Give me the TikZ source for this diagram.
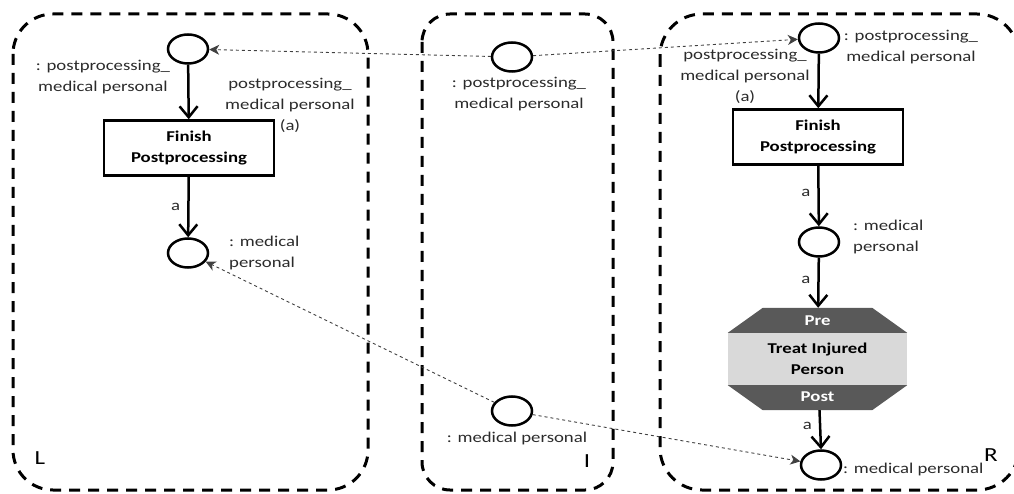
\documentclass[tikz,border=0pt]{standalone}
\usepackage{fontspec}
\setmainfont{Carlito}[FakeStretch=1.25]
\usetikzlibrary{arrows.meta,shapes.geometric,calc}
\definecolor{bandgray}{HTML}{595959}
\definecolor{midgray}{HTML}{D9D9D9}
\definecolor{linkgray}{HTML}{404040}
\definecolor{textgray}{HTML}{2B2B2B}

\begin{document}
\begin{tikzpicture}[x=1pt,y=-1pt,
    every node/.style={font=\fontsize{15}{21}\selectfont,inner sep=0pt,text=textgray},
    place/.style={draw,ellipse,line width=2.5pt,minimum width=40pt,minimum height=29pt},
    trans/.style={draw,line width=2.5pt,minimum width=170pt,minimum height=55pt,align=center,
                  text=black,font=\fontsize{15}{21}\selectfont\bfseries},
    flow/.style={line width=2.5pt,-{Straight Barb[length=11pt,width=18pt]}},
    morph/.style={linkgray,line width=0.9pt,dash pattern=on 3pt off 3pt,-{Stealth[length=10pt,width=10pt,inset=3pt]}},
    part/.style={line width=3pt,dash pattern=on 11pt off 8pt},
    side/.style={font=\fontsize{20}{20}\selectfont,text=black}]
    \useasboundingbox (0,0) rectangle (1014,494);
    % the three parts L, I, R
    \draw[part,rounded corners=40pt] (13,14) rectangle (368,490);
    \draw[part,rounded corners=28pt] (422,14) rectangle (613,490);
    \draw[part,rounded corners=42pt] (660,14) rectangle (1019,490);
    \node[side] (lname) at (40,458) {L};
    \node[side] (iname) at (587,461) {I};
    \node[side] (rname) at (991,455) {R};

    % left side
    \node[place] (lpre) at (188,49) {};
    \node[align=center] (lprelbl) at (103,77) {: postprocessing\_\\medical personal};
    \node[trans] (lfin) at (189,148) {Finish\\Postprocessing};
    \node[align=center] (larclbl) at (290,105) {postprocessing\_\\medical personal\\(a)};
    \node[place] (lmed) at (188,253) {};
    \node[align=left,anchor=west] (lmedlbl) at (229,253) {: medical\\personal};
    \draw[flow] (lpre) -- (lfin);
    \draw[flow] (lfin) -- node[left=7pt] {a} (lmed);

    % interface
    \node[place] (ipre) at (512,57) {};
    \node[align=center] (iprelbl) at (519,94) {: postprocessing\_\\medical personal};
    \node[place] (imed) at (512,411) {};
    \node (imedlbl) at (517,438) {: medical personal};

    % right side
    \node[place] (rpre) at (819,38) {};
    \node[align=center] (rprelbl) at (911,47) {: postprocessing\_\\medical personal};
    \node[align=center] (rarclbl) at (745,76) {postprocessing\_\\medical personal\\(a)};
    \node[trans] (rfin) at (818,137) {Finish\\Postprocessing};
    \node[place] (rmed) at (819,242) {};
    \node[align=left,anchor=west] (rmedlbl) at (853,237) {: medical\\personal};
    \node[minimum width=179pt,minimum height=102pt] (treat) at (817.5,359) {};
    \fill[bandgray] ($(treat.north west)+(0,25)$) -- ($(treat.north west)+(35,0)$)
        -- ($(treat.north east)+(-35,0)$) -- ($(treat.north east)+(0,25)$) -- cycle;
    \fill[midgray] ($(treat.north west)+(0,25)$) rectangle ($(treat.south east)+(0,-25)$);
    \fill[bandgray] ($(treat.south west)+(0,-25)$) -- ($(treat.south west)+(35,0)$)
        -- ($(treat.south east)+(-35,0)$) -- ($(treat.south east)+(0,-25)$) -- cycle;
    \node[font=\fontsize{15}{21}\selectfont\bfseries,text=white] (trpre) at (817.5,321) {Pre};
    \node[font=\fontsize{15}{21}\selectfont\bfseries,text=black,align=center] (trname) at (817.5,359) {Treat Injured\\Person};
    \node[font=\fontsize{15}{21}\selectfont\bfseries,text=white] (trpost) at (817.5,397) {Post};
    \node[place] (rpost) at (821,465) {};
    \node[anchor=west] (rpostlbl) at (843,469) {: medical personal};
    \draw[flow] (rpre) -- (rfin);
    \draw[flow] (rfin) -- node[pos=0.45,left=7pt] {a} (rmed);
    \draw[flow] (rmed) -- node[pos=0.45,left=7pt] {a} (treat);
    \draw[flow] (treat) -- node[pos=0.4,left=7pt] {a} (rpost.north);

    % morphism links
    \draw[morph] (ipre) -- (lpre);
    \draw[morph] (ipre) -- (rpre);
    \draw[morph] (imed) -- (lmed);
    \draw[morph] (imed) -- (rpost);
\end{tikzpicture}
\end{document}
